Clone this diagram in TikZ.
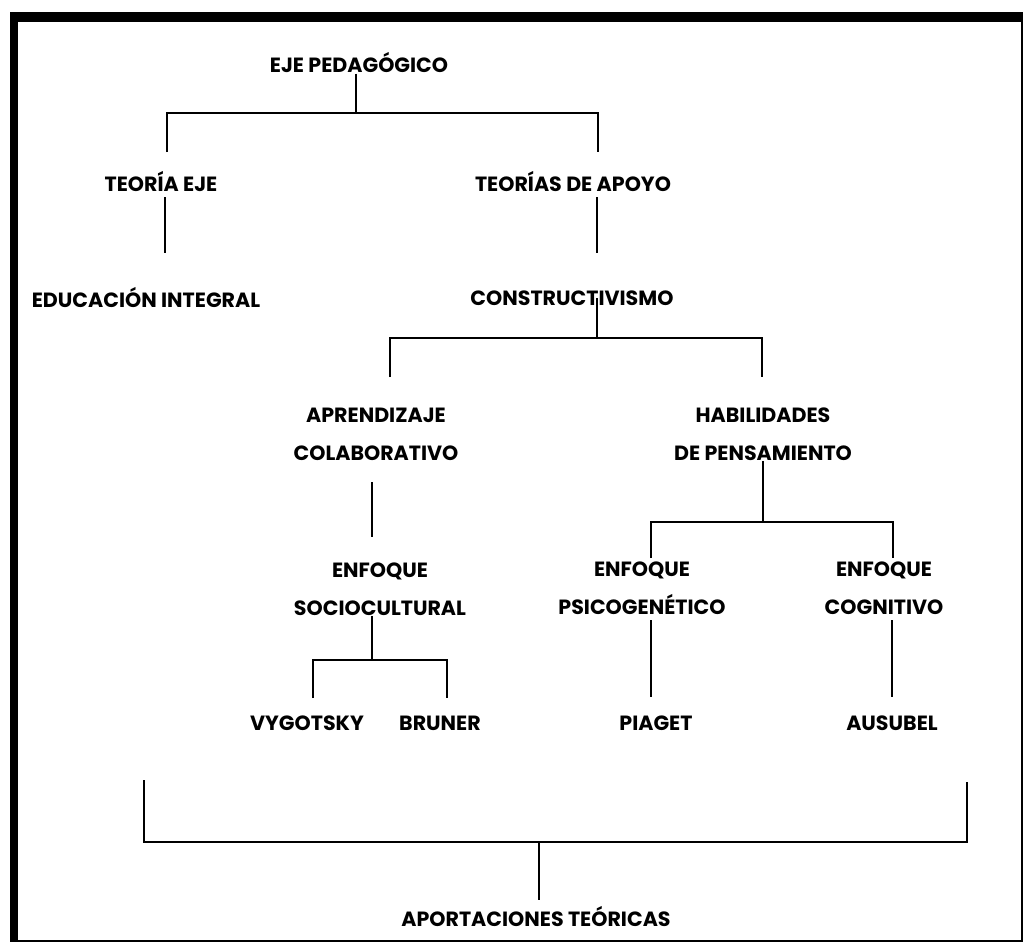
\documentclass[tikz,border=0pt]{standalone}
\usepackage{fontspec}
\setmainfont{Poppins}
\newcommand\lbl{\fontsize{10.3}{19}\selectfont\bfseries}
\tikzstyle{tag}=[inner sep=0pt, align=center, font=\lbl]
\tikzstyle{link}=[line width=0.8pt]

\begin{document}
\begin{tikzpicture}[x=0.5pt, y=-0.5pt]
      \useasboundingbox (0,0) rectangle (1035,950);
      % frame
      \fill (10,12) rectangle (18,942);
      \fill (10,12) rectangle (1023,22);
      \draw[line width=1pt] (1022,22) -- (1022,941) -- (10,941);

      % labels
      \node (eje) at (359,63) [tag] {EJE PEDAGÓGICO};
      \node (teje) at (161,182) [tag] {TEORÍA EJE};
      \node (tapoyo) at (573,182) [tag] {TEORÍAS DE APOYO};
      \node (edu) at (146,298) [tag] {EDUCACIÓN INTEGRAL};
      \node (cons) at (572,298) [tag] {CONSTRUCTIVISMO};
      \node (aprend) at (376,434) [tag] {APRENDIZAJE\\COLABORATIVO};
      \node (habil) at (763,434) [tag] {HABILIDADES\\DE PENSAMIENTO};
      \node (socio) at (380,589) [tag] {ENFOQUE\\SOCIOCULTURAL};
      \node (psico) at (642,588) [tag] {ENFOQUE\\PSICOGENÉTICO};
      \node (cogn) at (884,588) [tag] {ENFOQUE\\COGNITIVO};
      \node (vyg) at (307,723) [tag] {VYGOTSKY};
      \node (brun) at (440,723) [tag] {BRUNER};
      \node (piag) at (656,723) [tag] {PIAGET};
      \node (ausu) at (892,723) [tag] {AUSUBEL};
      \node (aport) at (536,917) [tag] {APORTACIONES TEÓRICAS};

      % junctions
      \coordinate (j-eje) at (356,113);
      \coordinate (j-cons) at (597,338);
      \coordinate (j-socio) at (372,660);
      \coordinate (j-habil) at (763,522);
      \coordinate (j-aport) at (539,842);
      \coordinate (teje-in) at (167,152);
      \coordinate (tapoyo-in) at (598,152);
      \coordinate (teje-out) at (165,197);
      \coordinate (edu-in) at (165,253);
      \coordinate (tapoyo-out) at (597,197);
      \coordinate (cons-in) at (597,253);
      \coordinate (aprend-in) at (390,377);
      \coordinate (habil-in) at (762,377);
      \coordinate (aprend-out) at (372,482);
      \coordinate (socio-in) at (372,537);
      \coordinate (vyg-in) at (313,698);
      \coordinate (brun-in) at (447,698);
      \coordinate (psico-in) at (651,558);
      \coordinate (cogn-in) at (893,558);
      \coordinate (psico-out) at (651,620);
      \coordinate (piag-in) at (651,697);
      \coordinate (cogn-out) at (892,620);
      \coordinate (ausu-in) at (892,697);
      \coordinate (left-up) at (144,780);
      \coordinate (right-up) at (967,782);
      \coordinate (aport-in) at (539,900);

      % tree
      \draw[link] (eje.south -| j-eje) -- (j-eje);
      \draw[link] (teje-in) |- (j-eje) -| (tapoyo-in);
      \draw[link] (teje-out) -- (edu-in);
      \draw[link] (tapoyo-out) -- (cons-in);
      \draw[link] (cons.center -| j-cons) -- (j-cons);
      \draw[link] (aprend-in) |- (j-cons) -| (habil-in);
      \draw[link] (aprend-out) -- (socio-in);
      \draw[link] (socio.south -| j-socio) -- (j-socio);
      \draw[link] (vyg-in) |- (j-socio) -| (brun-in);
      \draw[link] (habil.south -| j-habil) -- (j-habil);
      \draw[link] (psico-in) |- (j-habil) -| (cogn-in);
      \draw[link] (psico-out) -- (piag-in);
      \draw[link] (cogn-out) -- (ausu-in);
      \draw[link] (left-up) |- (j-aport) -| (right-up);
      \draw[link] (j-aport) -- (aport-in);
\end{tikzpicture}
\end{document}
